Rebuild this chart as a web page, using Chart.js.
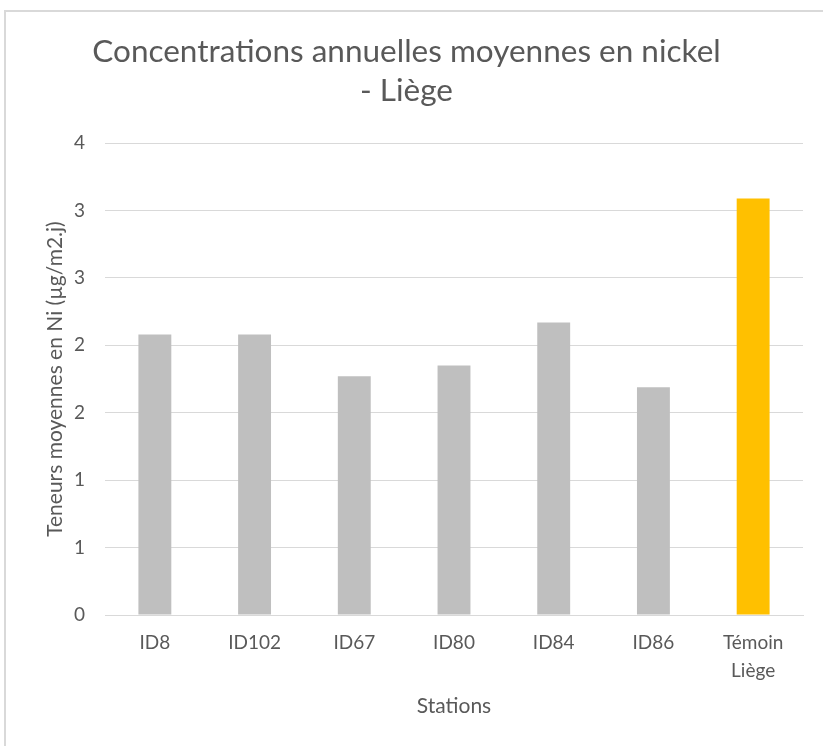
<!DOCTYPE html>
<html>
<head>
<meta charset="utf-8">
<script src="https://cdn.jsdelivr.net/npm/chart.js@4/dist/chart.umd.min.js"></script>
<style>
  html, body { margin: 0; padding: 0; background: #ffffff; }
  #wrap { position: relative; width: 823px; height: 746px; overflow: hidden; }
  #frame { position: absolute; left: 4px; top: 10px; width: 840px; height: 760px; border-left: 2px solid #d9d9d9; border-top: 2px solid #d9d9d9; }
  canvas { position: absolute; left: 0; top: 0; }
</style>
</head>
<body>
<div id="wrap">
  <div id="frame"></div>
  <canvas id="c" width="823" height="746"></canvas>
</div>
<script>
const chartTitle = ['Concentrations annuelles moyennes en nickel', '- Liège'];
const categories = ['ID8', 'ID102', 'ID67', 'ID80', 'ID84', 'ID86', ['Témoin', 'Liège']];
const values = [2.08, 2.08, 1.77, 1.85, 2.17, 1.69, 3.09];
const barColors = ['#bfbfbf', '#bfbfbf', '#bfbfbf', '#bfbfbf', '#bfbfbf', '#bfbfbf', '#ffc000'];
const yTickLabels = ['0', '1', '1', '2', '2', '3', '3', '4'];
const xAxisTitle = 'Stations';
const yAxisTitle = 'Teneurs moyennes en Ni (µg/m2.j)';

const FONT = "Lato, 'Open Sans', sans-serif";
const TEXT = '#595959';
const GRID = '#d9d9d9';

new Chart(document.getElementById('c'), {
  type: 'bar',
  data: {
    labels: categories,
    datasets: [{
      data: values,
      backgroundColor: barColors,
      borderWidth: 0,
      categoryPercentage: 1,
      barPercentage: 0.33
    }]
  },
  options: {
    responsive: false,
    animation: false,
    layout: { padding: { left: 10, right: 20, top: 20, bottom: 27 } },
    plugins: {
      legend: { display: false },
      tooltip: { enabled: false },
      title: {
        display: true,
        text: chartTitle,
        color: TEXT,
        font: { family: FONT, size: 31.5, weight: 'normal', lineHeight: 1.24 },
        padding: { top: 12, bottom: 33 }
      }
    },
    scales: {
      x: {
        afterFit: (s) => { s.height = 104; },
        grid: { display: false, drawTicks: false },
        border: { display: true, color: GRID, width: 1 },
        ticks: { color: TEXT, font: { family: FONT, size: 19, lineHeight: 1.47 }, padding: 14, maxRotation: 0 },
        title: { display: true, text: xAxisTitle, color: TEXT, font: { family: FONT, size: 21 }, padding: { top: 8, bottom: 0 } }
      },
      y: {
        min: 0,
        max: 3.5,
        afterFit: (s) => { s.width = 95; },
        grid: { color: GRID, lineWidth: 1, drawTicks: false },
        border: { display: false },
        ticks: {
          stepSize: 0.5,
          color: TEXT,
          font: { family: FONT, size: 19 },
          padding: 20,
          callback: (v, i) => yTickLabels[i]
        },
        title: { display: true, text: yAxisTitle, color: TEXT, font: { family: FONT, size: 21 }, padding: { top: 33, bottom: 0 } }
      }
    }
  }
});
</script>
</body>
</html>
